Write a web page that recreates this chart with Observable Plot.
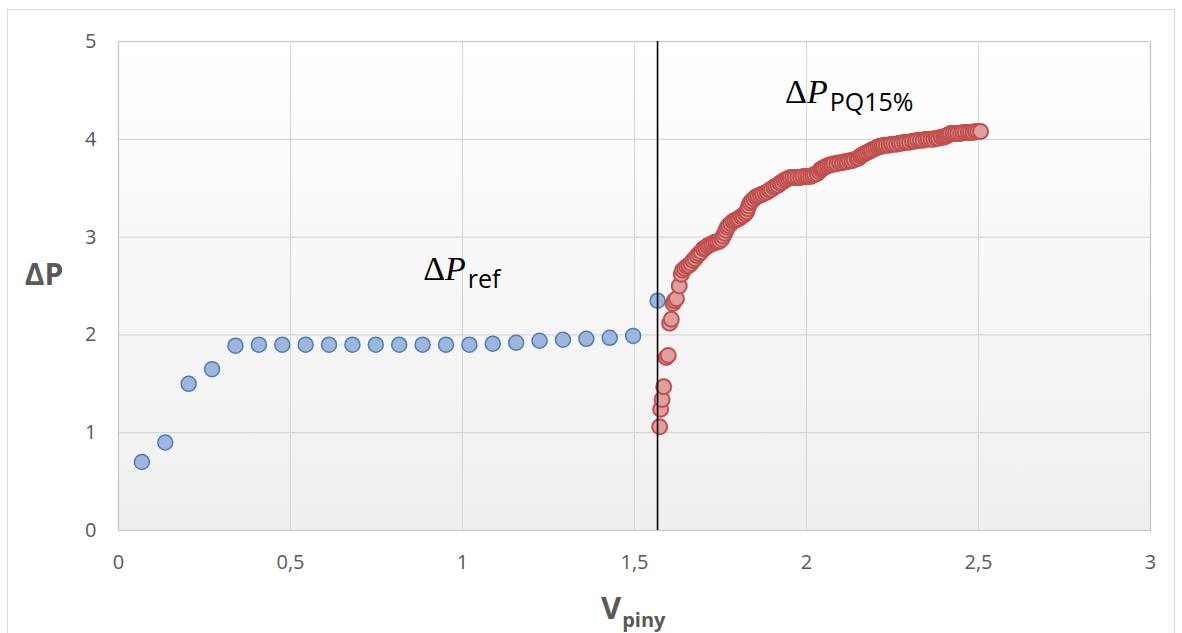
<!DOCTYPE html>
<html>
<head>
<meta charset="utf-8">
<script src="https://cdn.jsdelivr.net/npm/d3@7"></script>
<script src="https://cdn.jsdelivr.net/npm/@observablehq/plot@0.6"></script>
<style>
  body { margin: 0; background: #fff; }
  #wrap { position: relative; width: 1182px; height: 633px; overflow: hidden; }
  #border { position: absolute; left: 7px; top: 9px; width: 1168px; height: 640px; border: 1px solid #d9d9d9; box-sizing: border-box; }
  #chart { position: absolute; left: 0; top: 0; }
</style>
</head>
<body>
<div id="wrap"><div id="border"></div><div id="chart"></div></div>
<script>
// ---- data ----
const xTicks = [0, 0.5, 1, 1.5, 2, 2.5, 3];
const yTicks = [0, 1, 2, 3, 4, 5];

const refX = [0.068, 0.136, 0.204, 0.272, 0.340, 0.408, 0.476, 0.544, 0.612, 0.680, 0.748, 0.816,
              0.884, 0.952, 1.020, 1.088, 1.156, 1.224, 1.292, 1.360, 1.428, 1.496, 1.567];
const refY = [0.70, 0.90, 1.50, 1.65, 1.89, 1.90, 1.90, 1.90, 1.90, 1.90, 1.90, 1.90,
              1.90, 1.90, 1.90, 1.91, 1.92, 1.94, 1.95, 1.96, 1.97, 1.99, 2.35];

const pqX = [1.573, 1.576, 1.580, 1.585, 1.592, 1.598, 1.602, 1.607, 1.612, 1.616, 1.622, 1.630, 1.636, 1.640,
  1.646, 1.652, 1.658, 1.664, 1.670, 1.676, 1.682, 1.688, 1.694, 1.700, 1.706, 1.712, 1.718, 1.724, 1.730,
  1.736, 1.742, 1.748, 1.754, 1.758, 1.762, 1.766, 1.770, 1.774, 1.780, 1.786, 1.792, 1.798, 1.804, 1.810,
  1.816, 1.822, 1.826, 1.829, 1.832, 1.836, 1.841, 1.847, 1.853, 1.859, 1.866, 1.872, 1.879, 1.886, 1.892,
  1.898, 1.905, 1.911, 1.917, 1.923, 1.929, 1.935, 1.941, 1.947, 1.953, 1.960, 1.967, 1.975, 1.983, 1.990,
  1.998, 2.005, 2.012, 2.018, 2.024, 2.031, 2.036, 2.041, 2.046, 2.050, 2.056, 2.062, 2.068, 2.074, 2.080,
  2.088, 2.096, 2.104, 2.111, 2.118, 2.125, 2.132, 2.139, 2.147, 2.152, 2.157, 2.162, 2.167, 2.173, 2.179,
  2.185, 2.190, 2.196, 2.202, 2.208, 2.214, 2.220, 2.225, 2.232, 2.240, 2.247, 2.254, 2.262, 2.270, 2.277,
  2.285, 2.292, 2.300, 2.308, 2.316, 2.323, 2.331, 2.339, 2.347, 2.354, 2.362, 2.370, 2.377, 2.384, 2.392,
  2.399, 2.404, 2.409, 2.414, 2.419, 2.426, 2.433, 2.440, 2.448, 2.455, 2.462, 2.470, 2.477, 2.484, 2.491,
  2.498, 2.506];
const pqY = [1.06, 1.24, 1.34, 1.47, 1.77, 1.79, 2.12, 2.16, 2.32, 2.35, 2.37, 2.50, 2.62, 2.66,
  2.68, 2.70, 2.71, 2.73, 2.76, 2.78, 2.81, 2.83, 2.85, 2.88, 2.89, 2.91, 2.92, 2.93, 2.94,
  2.95, 2.95, 2.96, 2.98, 3.01, 3.04, 3.07, 3.10, 3.12, 3.14, 3.16, 3.17, 3.18, 3.19, 3.21,
  3.22, 3.24, 3.26, 3.29, 3.32, 3.35, 3.37, 3.39, 3.41, 3.42, 3.43, 3.44, 3.45, 3.46, 3.48,
  3.49, 3.51, 3.52, 3.53, 3.55, 3.56, 3.58, 3.59, 3.60, 3.61, 3.61, 3.61, 3.61, 3.61, 3.62,
  3.62, 3.62, 3.62, 3.63, 3.64, 3.65, 3.67, 3.69, 3.70, 3.71, 3.72, 3.73, 3.74, 3.74, 3.75,
  3.75, 3.76, 3.76, 3.77, 3.77, 3.78, 3.78, 3.79, 3.80, 3.81, 3.83, 3.84, 3.85, 3.86, 3.87,
  3.88, 3.89, 3.90, 3.91, 3.92, 3.93, 3.93, 3.94, 3.94, 3.94, 3.95, 3.95, 3.95, 3.96, 3.96,
  3.97, 3.97, 3.97, 3.98, 3.98, 3.99, 3.99, 3.99, 4.00, 4.00, 4.00, 4.00, 4.01, 4.01, 4.02,
  4.02, 4.03, 4.04, 4.05, 4.06, 4.06, 4.06, 4.06, 4.06, 4.07, 4.07, 4.07, 4.07, 4.07, 4.08,
  4.08, 4.08];

const boundaryX = [1.567];

const annotSubs = ["ref", "PQ15%"];
const annotX = [0.887, 1.939];
const annotY = [2.556, 4.37];

const xTitle = "V", xTitleSub = "piny";
const yTitle = "ΔP";

// ---- build ----
const refData = refX.map((x, i) => ({x, y: refY[i]}));
const pqData = pqX.map((x, i) => ({x, y: pqY[i]}));
const annots = annotSubs.map((s, i) => ({s, x: annotX[i], y: annotY[i]}));
const fmt = d => String(d).replace(".", ",");

const defsMark = () => {
  const g = d3.create("svg:g");
  const grad = g.append("defs").append("linearGradient")
    .attr("id", "bgGrad").attr("x1", 0).attr("y1", 0).attr("x2", 0).attr("y2", 1);
  grad.append("stop").attr("offset", "0%").attr("stop-color", "#ffffff");
  grad.append("stop").attr("offset", "100%").attr("stop-color", "#efefef");
  return g.node();
};

const annotMark = (index, scales) => {
  const g = d3.create("svg:g").attr("text-anchor", "start");
  for (const a of annots) {
    const t = g.append("text")
      .attr("x", scales.x(a.x)).attr("y", scales.y(a.y))
      .attr("text-anchor", "start")
      .attr("font-family", "'Liberation Serif', serif")
      .attr("font-size", 34).attr("fill", "#000");
    t.append("tspan").text("Δ");
    t.append("tspan").attr("font-style", "italic").text("P");
    t.append("tspan").attr("font-family", "'Open Sans', sans-serif")
      .attr("font-size", 25).attr("dx", 2).attr("dy", 8).text(a.s);
  }
  return g.node();
};

const titleMark = () => {
  const g = d3.create("svg:g").attr("fill", "#595959")
    .attr("font-family", "'Open Sans', sans-serif").attr("font-weight", "bold");
  g.append("text").attr("x", 44).attr("y", 285).attr("text-anchor", "middle")
    .attr("font-size", 30).text(yTitle);
  const t = g.append("text").attr("x", 601).attr("y", 619).attr("text-anchor", "start").attr("font-size", 31);
  t.append("tspan").text(xTitle);
  t.append("tspan").attr("font-size", 20).attr("dy", 8).attr("dx", 1).text(xTitleSub);
  return g.node();
};

const chart = Plot.plot({
  width: 1182,
  height: 633,
  marginLeft: 118,
  marginRight: 32,
  marginTop: 41,
  marginBottom: 103,
  style: { fontFamily: "'Open Sans', sans-serif", fontSize: "20px", color: "#595959", background: "transparent", overflow: "visible" },
  x: { domain: [0, 3] },
  y: { domain: [0, 5] },
  marks: [
    defsMark,
    Plot.frame({ fill: "url(#bgGrad)", stroke: null }),
    Plot.gridX(xTicks, { stroke: "#d9d9d9", strokeOpacity: 1, strokeWidth: 1.2 }),
    Plot.gridY(yTicks, { stroke: "#d9d9d9", strokeOpacity: 1, strokeWidth: 1.2 }),
    Plot.frame({ stroke: "#c8c8c8", strokeWidth: 1.2 }),
    Plot.axisX(xTicks, { tickSize: 0, tickPadding: 24, tickFormat: fmt, label: null, fill: "#595959" }),
    Plot.axisY(yTicks, { tickSize: 0, tickPadding: 22, tickFormat: fmt, label: null, fill: "#595959" }),
    Plot.dot(refData, { x: "x", y: "y", r: 7.5, fill: "#9fb6dc", stroke: "#4a7ebb", strokeWidth: 1.5 }),
    Plot.dot(pqData, { x: "x", y: "y", r: 7.5, fill: "#de9f9e", stroke: "#c0504d", strokeWidth: 2 }),
    Plot.ruleX(boundaryX, { stroke: "#000", strokeWidth: 1.6 }),
    annotMark,
    titleMark
  ]
});
document.getElementById("chart").appendChild(chart);
</script>
</body>
</html>
